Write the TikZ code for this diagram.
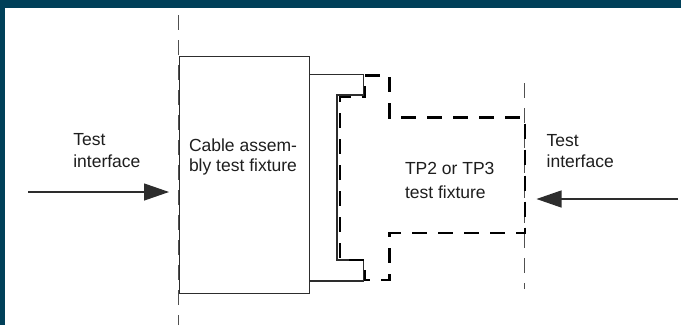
\documentclass[tikz,border=0pt]{standalone}
\usepackage{fontspec}
\setmainfont{Liberation Sans}
\usetikzlibrary{arrows.meta}
\definecolor{frameteal}{RGB}{0,64,89}
\definecolor{linegray}{RGB}{45,45,45}
\definecolor{textgray}{RGB}{30,30,30}
\definecolor{guidegray}{RGB}{80,80,80}
\tikzset{
  lbl/.style={anchor=north west, inner sep=0pt, outer sep=0pt, align=left, text=textgray},
  solidline/.style={draw=linegray, line width=1.2pt},
  fixdash/.style={draw=black, line width=2.3pt, dash pattern=on 15pt off 11pt},
  guide/.style={draw=guidegray, line width=0.9pt, dash pattern=on 15pt off 10pt},
  arrowline/.style={draw=linegray, line width=1.3pt, -{Triangle[length=25pt,width=17pt]}},
}
\begin{document}
\begin{tikzpicture}[x=1pt,y=-1pt]
\useasboundingbox (0,0) rectangle (681,325);
\fill[white] (0,0) rectangle (681,325);
\fill[frameteal] (0,0) rectangle (681,7.5);
\fill[frameteal] (0,0) rectangle (4.5,325);
% guide lines
\coordinate (g1t) at (178.3,15);
\coordinate (g1b) at (178.3,325);
\coordinate (g2t) at (524.6,83);
\coordinate (g2b) at (524.6,289);
\draw[guide] (g1t) -- (g1b);
\draw[guide] (g2t) -- (g2b);
% cable assembly test fixture box
\node[solidline, fill=white, minimum width=130pt, minimum height=237pt, anchor=north west, inner sep=0pt] (cab) at (179,56) {};
% connector outline (solid)
\draw[solidline, line join=miter] (309,74.3) -- (363.5,74.3) -- (363.5,95) -- (337,95) -- (337,260) -- (363.5,260) -- (363.5,281) -- (309,281);
% TP fixture outline (dashed)
\draw[fixdash, line join=miter] (365,75.5) -- (389.5,75.5) -- (389.5,117.5) -- (525,117.5) -- (525,233) -- (389.5,233) -- (389.5,280) -- (365,280) -- (365,260) -- (340,260) -- (340,97) -- (365,97) -- cycle;
% texts
\node[lbl, font=\fontsize{17.5}{20}\selectfont] (cabtxt) at (189,139.3) {Cable assem-\\bly test fixture};
\node[lbl, font=\fontsize{17.5}{23.5}\selectfont] (tptxt) at (405,162.3) {TP2 or TP3\\test fixture};
\node[lbl, font=\fontsize{17.5}{21.6}\selectfont] (ltxt) at (73.3,133.5) {Test\\interface};
\node[lbl, font=\fontsize{17.5}{21}\selectfont] (rtxt) at (546.7,134.3) {Test\\interface};
% arrows
\coordinate (la) at (28,192);
\coordinate (lb) at (169,192);
\coordinate (ra) at (678,199);
\coordinate (rb) at (536.5,199);
\draw[arrowline] (la) -- (lb);
\draw[arrowline] (ra) -- (rb);
\end{tikzpicture}
\end{document}
